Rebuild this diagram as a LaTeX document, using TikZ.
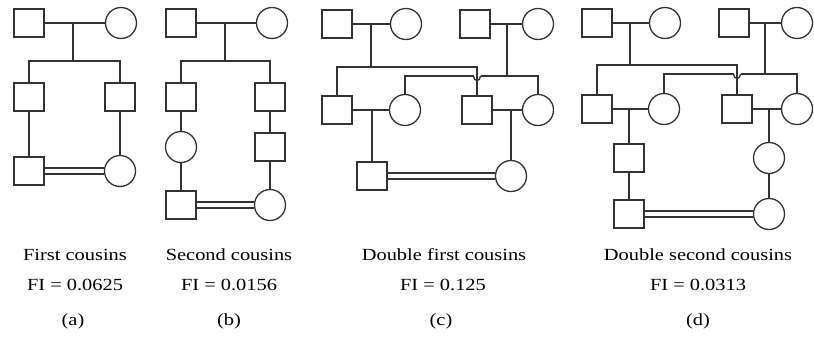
\documentclass[tikz,border=0pt]{standalone}
\usepackage{fontspec}
\setmainfont{Liberation Serif}[FakeStretch=1.2]
\usetikzlibrary{calc}
\newcommand{\consang}[2]{%
  \draw ([yshift=3pt]#1.east) -- ([yshift=3pt]#2.west);
  \draw ([yshift=-3pt]#1.east) -- ([yshift=-3pt]#2.west);}
\begin{document}
\begin{tikzpicture}[x=1pt,y=-1pt,line width=1.3pt,color=black!80,
    male/.style={draw,rectangle,minimum width=30pt,minimum height=28pt,inner sep=0pt},
    female/.style={draw,circle,minimum size=31pt,inner sep=0pt},
    caption/.style={anchor=base,text=black,inner sep=0pt,font=\fontsize{17}{20}\selectfont}]
\useasboundingbox (0,0) rectangle (814,338);
% (a) first cousins
\node[male] (a1) at (29,23) {};
\node[female] (a2) at (121,23) {};
\node[male] (a3) at (29,97) {};
\node[male] (a4) at (120,97) {};
\node[male] (a5) at (29,171) {};
\node[female] (a6) at (120,171) {};
\coordinate (as) at (73,61);
\draw (a1) -- (a2);
\draw (as |- a1) -- (as);
\draw (a3.north) |- (as) -| (a4.north);
\draw (a3) -- (a5);
\draw (a4) -- (a6);
\consang{a5}{a6}
% (b) second cousins
\node[male] (b1) at (181,23) {};
\node[female] (b2) at (272,23) {};
\node[male] (b3) at (181,97) {};
\node[male] (b4) at (270,97) {};
\node[female] (b5) at (181,147) {};
\node[male] (b6) at (270,147) {};
\node[male] (b7) at (181,205) {};
\node[female] (b8) at (270,205) {};
\coordinate (bs) at (225,61);
\draw (b1) -- (b2);
\draw (bs |- b1) -- (bs);
\draw (b3.north) |- (bs) -| (b4.north);
\draw (b3) -- (b5);
\draw (b5) -- (b7);
\draw (b4) -- (b6);
\draw (b6) -- (b8);
\consang{b7}{b8}
% (c) double first cousins
\node[male] (c1) at (337,24) {};
\node[female] (c2) at (406,24) {};
\node[male] (c3) at (475,24) {};
\node[female] (c4) at (538,24) {};
\node[male] (c5) at (337,110) {};
\node[female] (c6) at (405,110) {};
\node[male] (c7) at (477,110) {};
\node[female] (c8) at (538,110) {};
\node[male] (c9) at (372,176) {};
\node[female] (c10) at (511,176) {};
\coordinate (cs1) at (371,67);
\coordinate (cs2) at (507,76);
\coordinate (chl) at ($(c7 |- cs2)+(-3.5,0)$);
\coordinate (chr) at ($(c7 |- cs2)+(3.5,0)$);
\draw (c1) -- (c2);
\draw (c3) -- (c4);
\draw (cs1 |- c1) -- (cs1);
\draw (cs2 |- c3) -- (cs2);
\draw (c5.north) |- (cs1) -| (c7.north);
\draw (c6.north) |- (chl);
\draw (chl) .. controls +(0,6) and +(0,6) .. (chr);
\draw (chr) -| (c8.north);
\draw (c5) -- (c6);
\draw (c7) -- (c8);
\draw (c9.north) -- (c9.north |- c5);
\draw (c10.north) -- (c10.north |- c7);
\consang{c9}{c10}
% (d) double second cousins
\node[male] (d1) at (597,23) {};
\node[female] (d2) at (665,23) {};
\node[male] (d3) at (734,23) {};
\node[female] (d4) at (797,23) {};
\node[male] (d5) at (597,109) {};
\node[female] (d6) at (664,109) {};
\node[male] (d7) at (737,109) {};
\node[female] (d8) at (797,109) {};
\node[male] (d9) at (629,158) {};
\node[female] (d10) at (769,158) {};
\node[male] (d11) at (629,214) {};
\node[female] (d12) at (769,214) {};
\coordinate (ds1) at (630,65);
\coordinate (ds2) at (765,74);
\coordinate (dhl) at ($(d7 |- ds2)+(-3.5,0)$);
\coordinate (dhr) at ($(d7 |- ds2)+(3.5,0)$);
\draw (d1) -- (d2);
\draw (d3) -- (d4);
\draw (ds1 |- d1) -- (ds1);
\draw (ds2 |- d3) -- (ds2);
\draw (d5.north) |- (ds1) -| (d7.north);
\draw (d6.north) |- (dhl);
\draw (dhl) .. controls +(0,6) and +(0,6) .. (dhr);
\draw (dhr) -| (d8.north);
\draw (d5) -- (d6);
\draw (d7) -- (d8);
\draw (d9.north) -- (d9.north |- d5);
\draw (d10.north) -- (d10.north |- d7);
\draw (d9) -- (d11);
\draw (d10) -- (d12);
\consang{d11}{d12}
% captions
\node[caption] (ta) at (75,260) {First cousins};
\node[caption] (fa) at (75,290) {FI = 0.0625};
\node[caption] (pa) at (73,325) {(a)};
\node[caption] (tb) at (229,260) {Second cousins};
\node[caption] (fb) at (229,290) {FI = 0.0156};
\node[caption] (pb) at (229,325) {(b)};
\node[caption] (tc) at (444,260) {Double first cousins};
\node[caption] (fc) at (443,290) {FI = 0.125};
\node[caption] (pc) at (441,325) {(c)};
\node[caption] (td) at (698,260) {Double second cousins};
\node[caption] (fd) at (698,290) {FI = 0.0313};
\node[caption] (pd) at (698,325) {(d)};
\end{tikzpicture}
\end{document}
